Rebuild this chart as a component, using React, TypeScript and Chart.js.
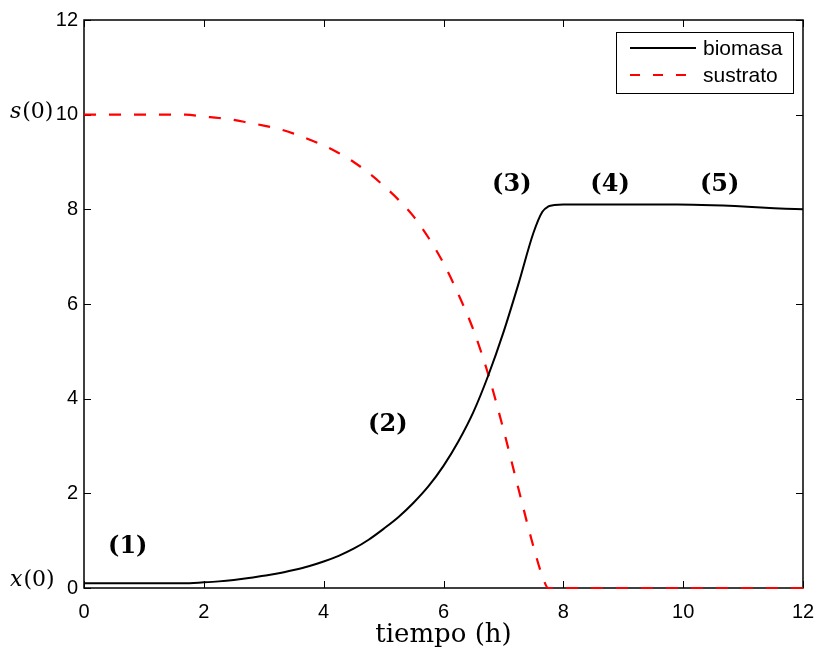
import React, { useEffect, useRef } from "react";
import { Chart, registerables } from "chart.js";

Chart.register(...registerables);

// Biomass x(t) and substrate s(t) of a batch culture, time in hours
const biomasaT = [0, 1.65, 2, 2.25, 2.5, 2.75, 3, 3.25, 3.5, 3.75, 4, 4.25, 4.5, 4.75, 5, 5.25, 5.5, 5.75, 6, 6.25, 6.5, 6.75, 7, 7.25, 7.5, 7.65, 7.75, 7.85, 8, 9.9, 12];
const biomasaX = [0.1, 0.1, 0.12, 0.14, 0.17, 0.21, 0.26, 0.31, 0.38, 0.46, 0.56, 0.68, 0.83, 1.02, 1.25, 1.5, 1.8, 2.15, 2.58, 3.1, 3.72, 4.5, 5.4, 6.42, 7.5, 7.95, 8.06, 8.09, 8.1, 8.1, 8.0];

const sustratoT = [0, 1.7, 2, 2.25, 2.5, 2.75, 3, 3.25, 3.5, 3.75, 4, 4.25, 4.5, 4.75, 5, 5.25, 5.5, 5.75, 6, 6.25, 6.5, 6.75, 7, 7.25, 7.5, 7.65, 7.75, 12];
const sustratoS = [10, 10, 9.96, 9.93, 9.89, 9.83, 9.77, 9.7, 9.6, 9.48, 9.35, 9.19, 9.0, 8.77, 8.5, 8.2, 7.85, 7.4, 6.86, 6.2, 5.45, 4.5, 3.35, 2.1, 0.88, 0.25, 0, 0];

const tickValues = [0, 2, 4, 6, 8, 10, 12];

// Phase labels and where they sit (t, value)
const phaseLabels = ["(1)", "(2)", "(3)", "(4)", "(5)"];
const phaseT = [0.73, 5.07, 7.14, 8.78, 10.61];
const phaseY = [0.87, 3.45, 8.51, 8.51, 8.51];

const seriesNames = ["biomasa", "sustrato"];

const W = 817;
const H = 650;

const decorations = {
  id: "decorations",
  beforeDatasetsDraw(chart: any) {
    const { ctx, chartArea: a, scales } = chart;
    const xs = scales.x;
    const ys = scales.y;
    ctx.save();

    // frame
    ctx.strokeStyle = "#000";
    ctx.lineWidth = 1.5;
    ctx.strokeRect(a.left, a.top, a.right - a.left, a.bottom - a.top);

    // inward ticks on all four sides
    const tl = 7;
    ctx.lineWidth = 1;
    ctx.beginPath();
    tickValues.forEach((v) => {
      const px = Math.round(xs.getPixelForValue(v)) + 0.5;
      ctx.moveTo(px, a.bottom);
      ctx.lineTo(px, a.bottom - tl);
      ctx.moveTo(px, a.top);
      ctx.lineTo(px, a.top + tl);
      const py = Math.round(ys.getPixelForValue(v)) + 0.5;
      ctx.moveTo(a.left, py);
      ctx.lineTo(a.left + tl, py);
      ctx.moveTo(a.right, py);
      ctx.lineTo(a.right - tl, py);
    });
    ctx.stroke();
    ctx.restore();
  },
  afterDatasetsDraw(chart: any) {
    const { ctx, chartArea: a, scales } = chart;
    const xs = scales.x;
    const ys = scales.y;
    ctx.save();

    // phase labels
    ctx.fillStyle = "#000";
    ctx.textAlign = "center";
    ctx.textBaseline = "middle";
    ctx.font = "bold 24px 'DejaVu Serif'";
    phaseLabels.forEach((lab, i) => {
      ctx.fillText(lab, xs.getPixelForValue(phaseT[i]), ys.getPixelForValue(phaseY[i]));
    });

    // s(0) and x(0) markers on the y axis
    const drawMath = (v: string, y: number) => {
      let x = 10;
      ctx.textAlign = "left";
      ctx.font = "italic 22px 'DejaVu Serif'";
      ctx.fillText(v, x, y);
      x += ctx.measureText(v).width + 1;
      ctx.font = "22px 'DejaVu Serif'";
      ctx.fillText("(0)", x, y);
    };
    drawMath("s", ys.getPixelForValue(10) - 2);
    drawMath("x", ys.getPixelForValue(0.1) - 3);

    // axis title
    ctx.textAlign = "center";
    ctx.font = "26px 'DejaVu Serif'";
    ctx.fillText("tiempo (h)", (a.left + a.right) / 2, 635);

    // legend
    const lx = 616, ly = 32, lw = 177, lh = 61;
    ctx.fillStyle = "#fff";
    ctx.fillRect(lx, ly, lw, lh);
    ctx.strokeStyle = "#000";
    ctx.lineWidth = 1;
    ctx.strokeRect(lx + 0.5, ly + 0.5, lw, lh);
    const rows = [
      { y: 48, color: "#000", dash: [] as number[] },
      { y: 75, color: "#ff0000", dash: [10, 13] },
    ];
    rows.forEach((r, i) => {
      ctx.strokeStyle = r.color;
      ctx.lineWidth = 2;
      ctx.setLineDash(r.dash);
      ctx.beginPath();
      ctx.moveTo(630, r.y);
      ctx.lineTo(696, r.y);
      ctx.stroke();
      ctx.setLineDash([]);
      ctx.fillStyle = "#000";
      ctx.textAlign = "left";
      ctx.font = "21px 'Liberation Sans'";
      ctx.fillText(seriesNames[i], 703, r.y + 1);
    });

    ctx.restore();
  },
};

export default function App() {
  const ref = useRef<HTMLCanvasElement | null>(null);

  useEffect(() => {
    if (!ref.current) return;
    const chart = new Chart(ref.current, {
      type: "line",
      data: {
        datasets: [
          {
            label: seriesNames[0],
            data: biomasaT.map((t, i) => ({ x: t, y: biomasaX[i] })),
            borderColor: "#000",
            borderWidth: 2,
            pointRadius: 0,
            cubicInterpolationMode: "monotone",
            fill: false,
            clip: 4,
          },
          {
            label: seriesNames[1],
            data: sustratoT.map((t, i) => ({ x: t, y: sustratoS[i] })),
            borderColor: "#ff0000",
            borderWidth: 2.2,
            borderDash: [12, 13],
            pointRadius: 0,
            cubicInterpolationMode: "monotone",
            fill: false,
            clip: 4,
          },
        ],
      },
      options: {
        responsive: false,
        animation: false,
        devicePixelRatio: 1,
        layout: { padding: { top: 20, right: 14, left: 0, bottom: 0 } },
        plugins: {
          legend: { display: false },
          tooltip: { enabled: false },
        },
        scales: {
          x: {
            type: "linear",
            min: 0,
            max: 12,
            afterBuildTicks: (s: any) => {
              s.ticks = tickValues.map((v) => ({ value: v }));
            },
            afterFit: (s: any) => {
              s.height = 62;
              s.paddingLeft = 0;
              s.paddingRight = 0;
            },
            grid: { display: false, drawTicks: false },
            border: { display: false },
            ticks: {
              padding: 12,
              color: "#000",
              font: { family: "'Liberation Sans'", size: 20 },
              maxRotation: 0,
            },
          },
          y: {
            type: "linear",
            min: 0,
            max: 12,
            afterBuildTicks: (s: any) => {
              s.ticks = tickValues.map((v) => ({ value: v }));
            },
            afterFit: (s: any) => {
              s.width = 84;
              s.paddingTop = 0;
              s.paddingBottom = 0;
            },
            grid: { display: false, drawTicks: false },
            border: { display: false },
            ticks: {
              padding: 6,
              color: "#000",
              font: { family: "'Liberation Sans'", size: 20 },
            },
          },
        },
      },
      plugins: [decorations],
    });
    return () => chart.destroy();
  }, []);

  return (
    <div style={{ position: "fixed", left: 0, top: 0, width: W, height: H, background: "#fff" }}>
      <canvas ref={ref} width={W} height={H} style={{ display: "block" }} />
    </div>
  );
}
